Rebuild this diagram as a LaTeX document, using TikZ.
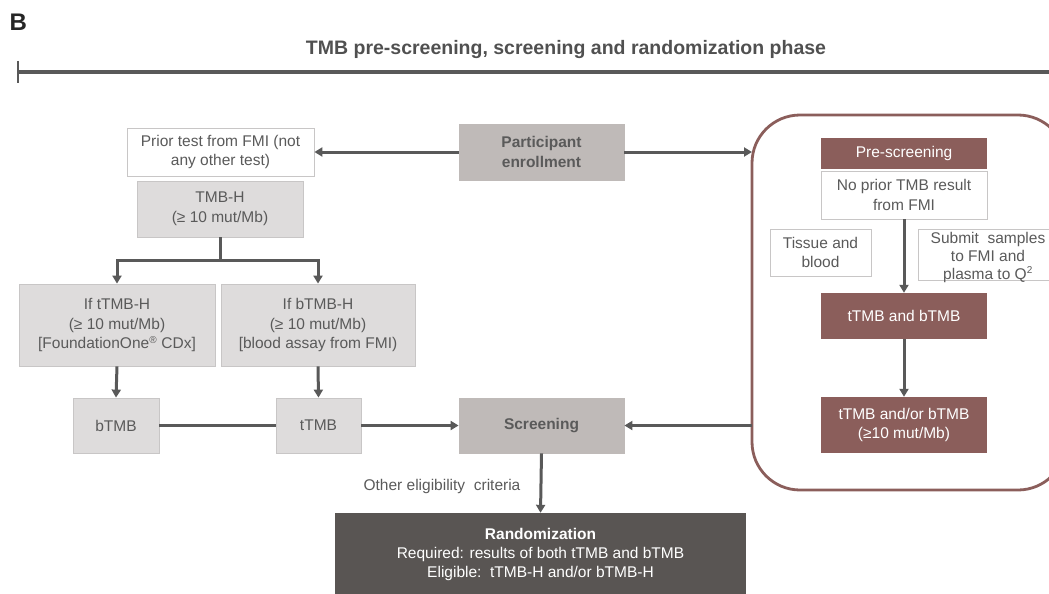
\documentclass[tikz,border=0pt]{standalone}
\usepackage{fontspec}
\setmainfont{Liberation Sans}
\usetikzlibrary{arrows.meta,positioning}
\definecolor{dgray}{HTML}{595959}
\definecolor{txtgray}{HTML}{5A5A5A}
\definecolor{lightfill}{HTML}{DEDCDC}
\definecolor{lightborder}{HTML}{C8C6C6}
\definecolor{midfill}{HTML}{BFBAB8}
\definecolor{brown}{HTML}{8B5E5B}
\definecolor{darkbox}{HTML}{595553}
\newcommand{\bodyfont}{\fontsize{15.5}{19.5}\selectfont}
\tikzset{
  box/.style={draw=lightborder, line width=0.8pt, rectangle, inner sep=0pt, align=center, text=txtgray, font=\bodyfont},
  whitebox/.style={box, fill=white},
  graybox/.style={box, fill=lightfill},
  midbox/.style={box, fill=midfill, draw=midfill, font=\bodyfont\bfseries},
  brownbox/.style={rectangle, fill=brown, inner sep=0pt, align=center, text=white, font=\bodyfont},
  conn/.style={draw=dgray, line width=3pt},
  arr/.style={conn, -{Triangle[length=8pt,width=9pt]}},
}
\begin{document}
\begin{tikzpicture}[x=1pt,y=-1pt]
\useasboundingbox (0,0) rectangle (1049,594);
% header
\node[anchor=west, font=\fontsize{24}{26}\selectfont\bfseries, text=black!85] (B) at (6,22) {B};
\node[font=\fontsize{19.5}{22}\selectfont\bfseries, text=dgray!90!black] (title) at (566,50) {TMB pre-screening, screening and randomization phase};
\draw[conn, line width=3.5pt] (18,72) -- (1049,72);
\draw[conn, line width=2.5pt] (18,61) -- (18,83);

% rounded container
\draw[draw=brown, line width=2.8pt, rounded corners=48pt] (752,115) rectangle (1066,490);

% left / center nodes
\node[whitebox, minimum width=187pt, minimum height=48pt] (prior) at (220.5,152) {Prior test from FMI (not\\any other test)};
\node[midbox, minimum width=165pt, minimum height=56pt] (enroll) at (541.5,152) {Participant\\enrollment};
\node[graybox, minimum width=166pt, minimum height=56pt] (tmbh) at (220,209) {TMB-H\\(≥ 10 mut/Mb)};
\node[graybox, minimum width=196pt, minimum height=82pt] (iftt) at (117,325) {If tTMB-H\\(≥ 10 mut/Mb)\\{}[FoundationOne\textsuperscript{\fontsize{10}{10}\selectfont®} CDx]};
\node[graybox, minimum width=194pt, minimum height=82pt] (ifbt) at (318,325) {If bTMB-H\\(≥ 10 mut/Mb)\\{}[blood assay from FMI)};
\node[graybox, minimum width=86pt, minimum height=55pt] (btmb) at (116,425.5) {bTMB};
\node[graybox, minimum width=85pt, minimum height=55pt] (ttmb) at (318.5,425.5) {tTMB};
\node[midbox, minimum width=165pt, minimum height=55pt] (screen) at (541.5,425.5) {Screening};
\node[rectangle, fill=darkbox, minimum width=411pt, minimum height=82pt, inner sep=0pt, align=center, text=white, font=\fontsize{15.5}{19}\selectfont] (rand) at (540.5,554) {{\bfseries Randomization}\\Required: results of both tTMB and bTMB\\Eligible:\ \ tTMB-H and/or bTMB-H};
\node[text=txtgray, font=\bodyfont] (other) at (442,486) {Other eligibility\ \ criteria};

% right side nodes
\node[brownbox, minimum width=166pt, minimum height=31pt] (pre) at (904,153.5) {Pre-screening};
\node[whitebox, minimum width=166pt, minimum height=48pt] (noprior) at (904,195) {No prior TMB result\\from FMI};
\node[whitebox, minimum width=101pt, minimum height=47pt] (tissue) at (820.5,252.5) {Tissue and\\blood};
\node[whitebox, minimum width=134pt, minimum height=51pt] (submit) at (985,254.5) {};
\node[text=txtgray, align=center, font=\fontsize{15.5}{18}\selectfont] (submittxt) at (988,257) {Submit\ \ samples\\to FMI and\\plasma to Q\textsuperscript{\fontsize{10}{10}\selectfont 2}};
\node[brownbox, minimum width=166pt, minimum height=46pt] (both) at (904,316) {tTMB and bTMB};
\node[brownbox, minimum width=166pt, minimum height=56pt] (andor) at (904,425) {tTMB and/or bTMB\\(≥10 mut/Mb)};

% connectors
\draw[arr] (enroll.west) -- (prior.east);
\coordinate (contL) at (752,152);
\coordinate (contL2) at (752,425.5);
\draw[arr] (enroll.east) -- (contL);
\coordinate (split) at (220,260);
\draw[conn] (tmbh.south) -- (split);
\draw[arr] (split) -| (iftt.north);
\draw[arr] (split) -| (ifbt.north);
\draw[arr] (iftt.south) -- (btmb.north);
\draw[arr] (ifbt.south) -- (ttmb.north);
\draw[conn] (btmb.east) -- (ttmb.west);
\draw[arr] (ttmb.east) -- (screen.west);
\draw[arr] (contL2) -- (screen.east);
\draw[arr] (screen.south) -- (rand.north);
\draw[arr] (noprior.south) -- (both.north);
\draw[arr] (both.south) -- (andor.north);
\end{tikzpicture}
\end{document}
